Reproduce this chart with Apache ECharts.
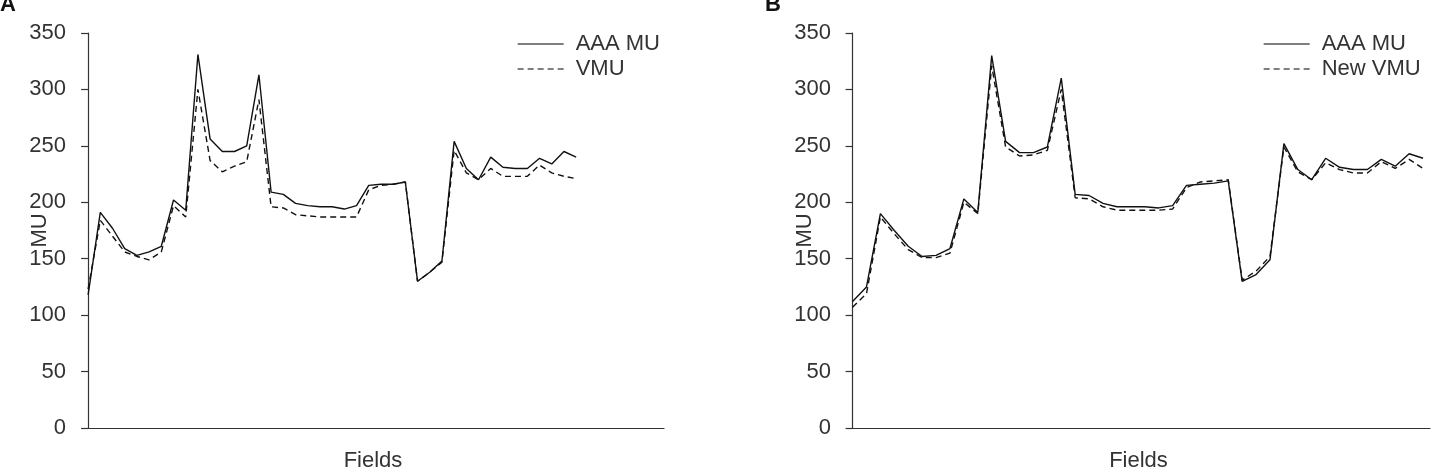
<!DOCTYPE html>
<html>
<head>
<meta charset="utf-8">
<title>AAA MU vs VMU</title>
<script src="https://cdn.jsdelivr.net/npm/echarts@6/dist/echarts.min.js"></script>
<style>
    html, body { margin: 0; padding: 0; background: #fff; }
    #chart { width: 1441px; height: 469px; }
</style>
</head>
<body>
<div id="chart"></div>
<script>
// 数据 - 估计值
let yTicks = [0, 50, 100, 150, 200, 250, 300, 350]
let legendA = ['AAA MU', 'VMU']
let legendB = ['AAA MU', 'New VMU']

let aaaMuA = [118, 191, 177, 159, 153, 156, 161, 202, 193, 331, 256, 245, 245, 250, 313, 209, 207, 199, 197, 196,
    196, 194, 197, 215, 216, 216, 218, 130, 138, 148, 254, 230, 220, 240, 231, 230, 230, 239, 234, 245, 240]
let vmuA = [123, 184, 170, 156, 152, 149, 156, 197, 187, 300, 237, 227, 232, 236, 291, 196, 195, 189, 188, 187,
    187, 187, 187, 211, 215, 216, 218, 130, 138, 147, 246, 226, 220, 230, 223, 223, 223, 233, 226, 223, 221]

let aaaMuB = [112, 125, 190, 175, 161, 152, 153, 159, 203, 191, 330, 254, 244, 244, 249, 310, 207, 206, 199, 196,
    196, 196, 195, 197, 215, 216, 217, 219, 130, 136, 149, 252, 229, 220, 239, 231, 229, 229, 238, 232, 243, 239]
let newVmuB = [107, 119, 187, 172, 158, 151, 151, 155, 200, 190, 321, 249, 241, 242, 246, 300, 204, 203, 196, 193,
    193, 193, 193, 194, 213, 218, 219, 220, 131, 139, 152, 249, 227, 220, 235, 229, 226, 226, 236, 230, 238, 230]

const FONT = '"Liberation Sans", Arial, sans-serif'
const INK = '#333'
const FS = 22

// 把数组转成 [字段序号, 值]
function toPairs(arr) {
    return arr.map((v, i) => [i, v])
}

function xAxisOf(gridIndex, min, max) {
    return {
        gridIndex: gridIndex,
        type: 'value',
        min: min,
        max: max,
        name: 'Fields',
        nameLocation: 'middle',
        nameGap: 22,
        nameMoveOverlap: false,
        nameTextStyle: { fontFamily: FONT, fontSize: FS, color: INK },
        axisLine: { show: true, lineStyle: { color: INK, width: 1.2 } },
        axisTick: { show: false },
        axisLabel: { show: false },
        splitLine: { show: false }
    }
}

function yAxisOf(gridIndex) {
    return {
        gridIndex: gridIndex,
        type: 'value',
        min: yTicks[0],
        max: yTicks[yTicks.length - 1],
        interval: yTicks[1] - yTicks[0],
        name: 'MU',
        nameLocation: 'middle',
        nameGap: 31,
        nameRotate: 90,
        nameMoveOverlap: false,
        nameTextStyle: { fontFamily: FONT, fontSize: FS, color: INK },
        axisLine: { show: true, lineStyle: { color: INK, width: 1.2 } },
        axisTick: { show: true, inside: false, length: 7, lineStyle: { color: INK, width: 1.2 } },
        axisLabel: { margin: 16, fontFamily: FONT, fontSize: FS, color: INK },
        splitLine: { show: false }
    }
}

function lineOf(name, data, idx, dashed) {
    return {
        name: name,
        type: 'line',
        xAxisIndex: idx,
        yAxisIndex: idx,
        data: toPairs(data),
        showSymbol: false,
        symbol: 'none',
        lineStyle: { color: '#111', width: 1.4, type: dashed ? [6, 4] : 'solid' },
        itemStyle: { color: '#111' },
        z: dashed ? 3 : 2
    }
}

function legendOf(names, left) {
    return {
        data: names,
        orient: 'vertical',
        left: left,
        top: 33,
        padding: 0,
        itemWidth: 46,
        itemHeight: 14,
        itemGap: 3,
        itemStyle: { opacity: 0 },
        lineStyle: { color: '#555', width: 1.3 },
        textStyle: { fontFamily: FONT, fontSize: FS, color: INK, padding: [0, 0, 0, 7] }
    }
}

let myChart = echarts.init(document.getElementById('chart'), null, { renderer: 'canvas' })
let option = {
    animation: false,
    backgroundColor: '#fff',
    graphic: [
        { type: 'text', left: 0, top: -6, style: { text: 'A', font: 'bold 22px ' + FONT, fill: '#111' } },
        { type: 'text', left: 765, top: -6, style: { text: 'B', font: 'bold 22px ' + FONT, fill: '#111' } }
    ],
    legend: [legendOf(legendA, 517), legendOf(legendB, 1263)],
    grid: [
        { left: 82, right: 777, top: 33, bottom: 41, outerBoundsMode: 'none' },
        { left: 847, right: 11, top: 33, bottom: 41, outerBoundsMode: 'none' }
    ],
    xAxis: [xAxisOf(0, -0.5, 47.2), xAxisOf(1, -0.4, 41.5)],
    yAxis: [yAxisOf(0), yAxisOf(1)],
    series: [
        lineOf(legendA[0], aaaMuA, 0, false),
        lineOf(legendA[1], vmuA, 0, true),
        lineOf(legendB[0], aaaMuB, 1, false),
        lineOf(legendB[1], newVmuB, 1, true)
    ]
}
myChart.setOption(option)
</script>
</body>
</html>
